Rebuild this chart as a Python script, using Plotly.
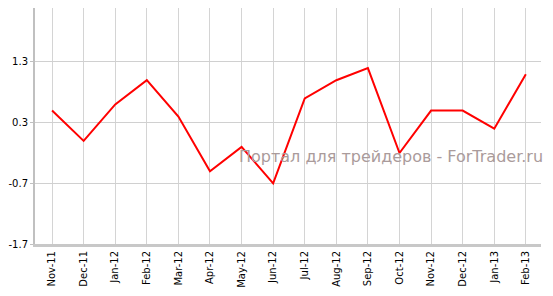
import plotly.graph_objects as go

months = ["Nov-11", "Dec-11", "Jan-12", "Feb-12", "Mar-12", "Apr-12", "May-12", "Jun-12",
          "Jul-12", "Aug-12", "Sep-12", "Oct-12", "Nov-12", "Dec-12", "Jan-13", "Feb-13"]
values = [0.5, 0.0, 0.6, 1.0, 0.4, -0.5, -0.1, -0.7, 0.7, 1.0, 1.2, -0.2, 0.5, 0.5, 0.2, 1.1]
y_ticks = [-1.7, -0.7, 0.3, 1.3]

fig = go.Figure()
fig.add_trace(go.Scatter(x=list(range(len(months))), y=values, mode="lines",
                         line=dict(color="#ff0000", width=2), hoverinfo="skip"))

fig.update_layout(
    width=553, height=296,
    margin=dict(l=35, r=12, t=8, b=49),
    plot_bgcolor="white", paper_bgcolor="white",
    showlegend=False,
    font=dict(family="DejaVu Sans", size=10, color="black"),
    annotations=[dict(text="Портал для трейдеров - ForTrader.ru", xref="paper", yref="paper",
                      x=0.703, y=0.37, xanchor="center", yanchor="middle", showarrow=False,
                      font=dict(family="DejaVu Sans", size=16, color="rgb(170,155,155)"))],
)
fig.update_xaxes(
    range=[-0.54, 15.48], tickmode="array", tickvals=list(range(len(months))), ticktext=months,
    tickangle=-90, showgrid=True, gridcolor="#d4d4d4", gridwidth=1,
    showline=True, linecolor="#c8c8c8", linewidth=3, zeroline=False,
    ticks="", tickfont=dict(size=10, family="DejaVu Sans"),
)
fig.update_yaxes(
    range=[-1.7, 2.19], tickmode="array", tickvals=y_ticks, ticktext=[str(v) for v in y_ticks],
    showgrid=True, gridcolor="#d0d0d0", gridwidth=1,
    showline=True, linecolor="#c0c0c0", linewidth=2, zeroline=False,
    ticks="outside", ticklen=3, tickcolor="#c0c0c0", tickfont=dict(size=10, family="DejaVu Sans"),
)

fig.write_html("out.html")
